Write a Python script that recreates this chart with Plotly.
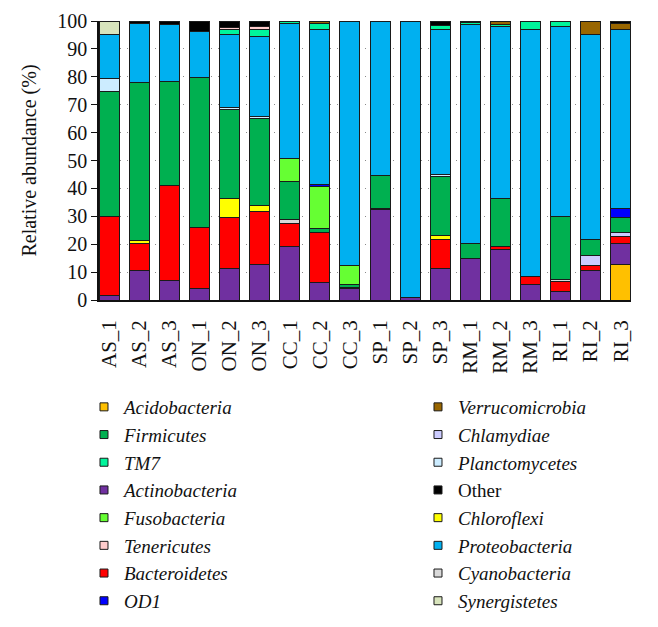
import plotly.graph_objects as go

samples = ["AS_1", "AS_2", "AS_3", "ON_1", "ON_2", "ON_3", "CC_1", "CC_2", "CC_3",
           "SP_1", "SP_2", "SP_3", "RM_1", "RM_2", "RM_3", "RI_1", "RI_2", "RI_3"]

acidobacteria   = [0, 0, 0, 0, 0, 0, 0, 0, 0, 0, 0, 0, 0, 0, 0, 0, 0, 12.9]
actinobacteria  = [1.6, 10.5, 6.9, 4.0, 11.4, 12.6, 19.2, 6.3, 4.0, 32.4, 1.0, 11.4, 14.7, 18.1, 5.4, 3.0, 10.5, 7.2]
bacteroidetes   = [28.5, 9.6, 34.2, 22.1, 18.3, 19.1, 8.1, 18.0, 0.6, 0.4, 0, 10.2, 0.3, 1.2, 3.1, 3.6, 1.8, 2.8]
chlamydiae      = [0, 0, 0, 0, 0, 0, 0, 0, 0, 0, 0, 0, 0, 0, 0, 0, 3.6, 1.4]
chloroflexi     = [0, 1.2, 0, 0, 6.6, 2.0, 0, 0, 0, 0, 0, 1.5, 0, 0, 0, 0, 0, 0]
cyanobacteria   = [0, 0, 0, 0, 0, 0, 1.4, 0, 0, 0, 0, 0, 0, 0, 0, 0.9, 0, 0]
firmicutes      = [44.5, 56.7, 37.3, 53.5, 32.0, 31.3, 13.8, 1.2, 1.1, 12.0, 0, 21.3, 5.1, 17.2, 0, 22.4, 5.7, 5.2]
fusobacteria    = [0, 0, 0, 0, 0, 0, 8.2, 15.2, 6.6, 0, 0, 0, 0, 0, 0, 0, 0, 0]
od1             = [0, 0, 0, 0, 0, 0, 0, 0.7, 0, 0, 0, 0, 0, 0, 0, 0, 0, 3.4]
planctomycetes  = [4.7, 0, 0, 0, 0.7, 0.9, 0, 0, 0, 0, 0, 0.5, 0, 0, 0, 0, 0, 0]
proteobacteria  = [15.9, 21.2, 20.2, 16.6, 26.3, 28.5, 48.5, 55.6, 87.7, 55.2, 99.0, 51.9, 78.5, 61.7, 88.3, 68.3, 73.4, 64.1]
synergistetes   = [4.8, 0, 0, 0, 0, 0, 0, 0, 0, 0, 0, 0, 0, 0, 0, 0, 0, 0]
tm7             = [0, 0, 0, 0, 1.7, 2.6, 0.5, 2.2, 0, 0, 0, 1.5, 0.8, 0.7, 3.2, 1.8, 0, 0]
tenericutes     = [0, 0, 0, 0, 0.7, 1.0, 0, 0, 0, 0, 0, 0, 0, 0, 0, 0, 0, 0]
verrucomicrobia = [0, 0, 0, 0, 0, 0, 0, 0.8, 0, 0, 0, 0, 0, 1.1, 0, 0, 5.0, 2.2]
other           = [0, 0.8, 1.4, 3.8, 2.3, 2.0, 0.3, 0, 0, 0, 0, 1.7, 0.6, 0, 0, 0, 0, 0.8]

# stacking order (bottom -> top)
stack = [
    ("Acidobacteria", acidobacteria, "#FFC000"),
    ("Actinobacteria", actinobacteria, "#7030A0"),
    ("Bacteroidetes", bacteroidetes, "#FF0000"),
    ("Chlamydiae", chlamydiae, "#CCCCFF"),
    ("Chloroflexi", chloroflexi, "#FFFF00"),
    ("Cyanobacteria", cyanobacteria, "#D9D9D9"),
    ("Firmicutes", firmicutes, "#00B050"),
    ("Fusobacteria", fusobacteria, "#66FF33"),
    ("OD1", od1, "#0000FF"),
    ("Planctomycetes", planctomycetes, "#CCECFF"),
    ("Proteobacteria", proteobacteria, "#00B0F0"),
    ("Synergistetes", synergistetes, "#D8E4BC"),
    ("TM7", tm7, "#00F59B"),
    ("Tenericutes", tenericutes, "#FFCCCC"),
    ("Verrucomicrobia", verrucomicrobia, "#996600"),
    ("Other", other, "#000000"),
]
colors = {n: c for n, _, c in stack}

legend_left = ["Acidobacteria", "Firmicutes", "TM7", "Actinobacteria",
               "Fusobacteria", "Tenericutes", "Bacteroidetes", "OD1"]
legend_right = ["Verrucomicrobia", "Chlamydiae", "Planctomycetes", "Other",
                "Chloroflexi", "Proteobacteria", "Cyanobacteria", "Synergistetes"]

SERIF = "Times New Roman, Liberation Serif, DejaVu Serif, serif"

fig = go.Figure()
for name, vals, col in stack:
    fig.add_trace(go.Bar(
        x=samples, y=vals, name=name, showlegend=False,
        marker=dict(color=col, line=dict(color="#1a1a1a", width=1)),
    ))

def label(n):
    return n if n == "Other" else "<i>" + n + "</i>"

for lg, names in (("legend", legend_left), ("legend2", legend_right)):
    for n in names:
        fig.add_trace(go.Scatter(
            x=[None], y=[None], mode="markers", name=label(n), legend=lg,
            marker=dict(symbol="square", size=8, color=colors[n],
                        line=dict(color="#1a1a1a", width=1)),
        ))

fig.update_layout(
    width=658, height=627,
    margin=dict(l=91, r=35, t=13, b=335, autoexpand=False),
    barmode="stack", bargap=0.336,
    plot_bgcolor="white", paper_bgcolor="white",
    font=dict(family=SERIF, size=20, color="#111"),
    xaxis=dict(range=[-0.34, 17.34], tickangle=-90, showline=True,
               linecolor="#111", linewidth=1.5, ticks="", showgrid=False,
               tickfont=dict(family=SERIF, size=21), ticklabelstandoff=10),
    yaxis=dict(range=[0, 100], dtick=10, ticks="outside", ticklen=6,
               tickcolor="#111", showline=True, linecolor="#111", linewidth=1.5,
               showgrid=True, gridcolor="#8a8a8a", griddash="1px,6px", gridwidth=1,
               zeroline=False, tickfont=dict(family=SERIF, size=20),
               title=dict(text="Relative abundance (%)", font=dict(family=SERIF, size=20))),
    legend=dict(x=-0.0282, y=-0.3154, xanchor="left", yanchor="top",
                traceorder="normal",
                font=dict(family=SERIF, size=19), tracegroupgap=0,
                bgcolor="rgba(0,0,0,0)"),
    legend2=dict(x=0.5996, y=-0.3154, xanchor="left", yanchor="top",
                 traceorder="normal",
                 font=dict(family=SERIF, size=19), tracegroupgap=0,
                 bgcolor="rgba(0,0,0,0)"),
)

fig.write_html("out.html")
